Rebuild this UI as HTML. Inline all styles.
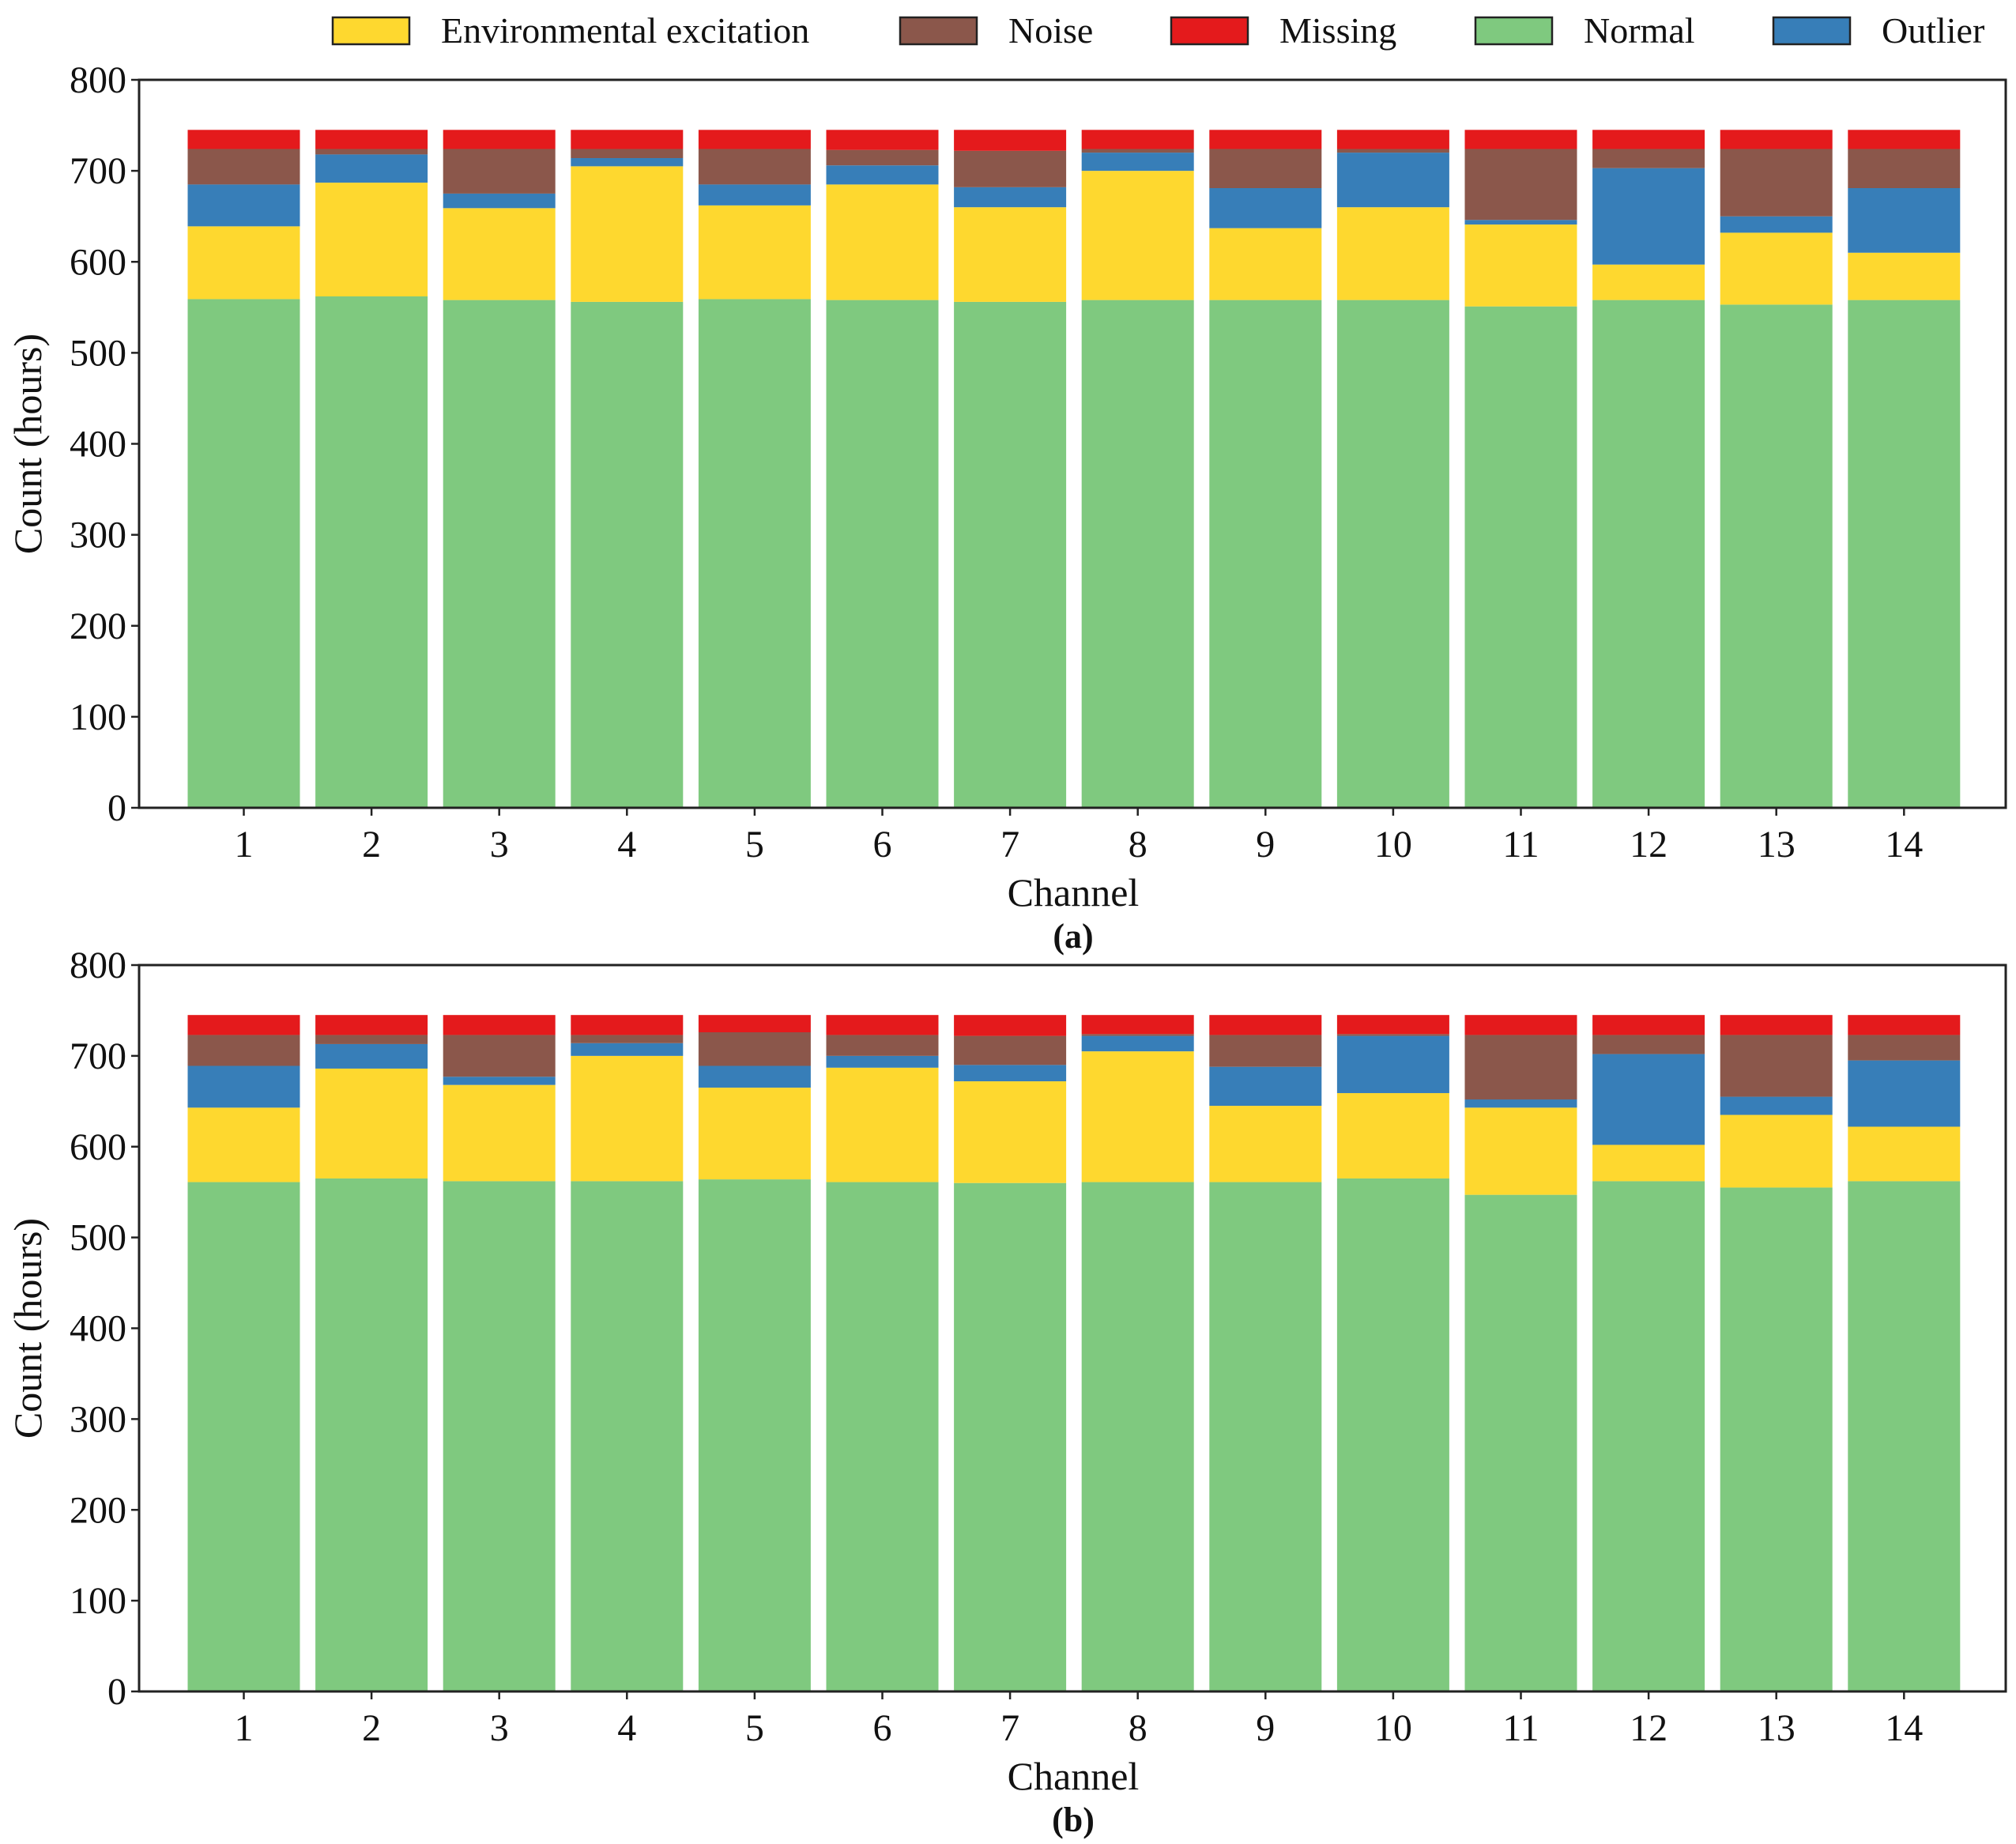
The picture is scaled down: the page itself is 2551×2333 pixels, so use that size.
<!DOCTYPE html>
<html><head><meta charset="utf-8"><style>
html,body{margin:0;padding:0;background:#fff;}
svg{display:block;font-family:"Liberation Serif",serif;}
</style></head><body>
<svg id="fig" width="2551" height="2333" viewBox="0 0 2551 2333"></svg>
<script>
const channels = [1,2,3,4,5,6,7,8,9,10,11,12,13,14];
const yTicks = [0,100,200,300,400,500,600,700,800];
// cumulative tops per category, panel (a)
const aNormal  = [559,562,558,556,559,558,556,558,558,558,551,558,553,558];
const aEnv     = [639,687,659,705,662,685,660,700,637,660,641,597,632,610];
const aOutlier = [685,718,675,714,685,706,682,720,681,720,646,703,650,681];
const aNoise   = [724,724,724,724,724,723,722,724,724,724,724,724,724,724];
const aMissing = [745,745,745,745,745,745,745,745,745,745,745,745,745,745];
// panel (b)
const bNormal  = [561,565,562,562,564,561,560,561,561,565,547,562,555,562];
const bEnv     = [643,686,668,700,665,687,672,705,645,659,643,602,635,622];
const bOutlier = [689,713,677,714,689,700,690,722,688,722,652,702,655,695];
const bNoise   = [723,723,723,723,726,723,722,724,723,724,723,723,723,723];
const bMissing = [745,745,745,745,745,745,745,745,745,745,745,745,745,745];

const legendLabels = ["Environmental excitation","Noise","Missing","Normal","Outlier"];
const COLORS = {normal:"#7fc97f",env:"#fed82f",outlier:"#377eb8",noise:"#8b574b",missing:"#e41a1c"};
const NS="http://www.w3.org/2000/svg";
const svg=document.getElementById('fig');
function mk(tag,attrs,parent){const e=document.createElementNS(NS,tag);for(const k in attrs)e.setAttribute(k,attrs[k]);(parent||svg).appendChild(e);return e;}

const L=176,R=2538,step=161.6,x1=308.5,bw=142;
function xPos(c){return x1+(c-1)*step;}

function panel(top,bottom,series,tag,label){
  const g=mk('g',{});
  
  
  const y=v=>bottom-(v/800)*(bottom-top);
  const keys=['normal','env','outlier','noise','missing'];
  channels.forEach((c,i)=>{
    let prev=0;
    keys.forEach(k=>{
      const v=series[k][i];
      const r=mk('rect',{x:xPos(c)-bw/2,y:y(v),width:bw,height:Math.max(0,y(prev)-y(v)),fill:COLORS[k]},g);
      
      
      prev=v;
    });
  });
  const fr=mk('rect',{x:L,y:top,width:R-L,height:bottom-top,fill:'none',stroke:'#222','stroke-width':3},g);
  
  
  yTicks.forEach(v=>{
    mk('line',{x1:L-10,x2:L,y1:y(v),y2:y(v),stroke:'#222','stroke-width':2.5},g);
    const t=mk('text',{x:L-16,y:y(v)+16,'text-anchor':'end','font-size':48,fill:'#111'},g);
    t.textContent=v;
    
    
  });
  channels.forEach(c=>{
    mk('line',{x1:xPos(c),x2:xPos(c),y1:bottom,y2:bottom+10,stroke:'#222','stroke-width':2.5},g);
    const t=mk('text',{x:xPos(c),y:bottom+62,'text-anchor':'middle','font-size':48,fill:'#111'},g);
    t.textContent=c;
    
    
  });
  const xt=mk('text',{x:1358,y:bottom+124,'text-anchor':'middle','font-size':50,fill:'#111'},g);
  xt.textContent='Channel';
  
  
  const pl=mk('text',{x:1358,y:bottom+177,'text-anchor':'middle','font-size':44,'font-weight':'bold',fill:'#111'},g);
  pl.textContent=label;
  
  
  const cy=(top+bottom)/2;
  const yt=mk('text',{x:52,y:cy,'text-anchor':'middle','font-size':50,fill:'#111',transform:'rotate(-90 52 '+cy+')'},g);
  yt.textContent='Count (hours)';
  
  
}
panel(101,1022,{normal:aNormal,env:aEnv,outlier:aOutlier,noise:aNoise,missing:aMissing},'a','(a)');
panel(1221,2140,{normal:bNormal,env:bEnv,outlier:bOutlier,noise:bNoise,missing:bMissing},'b','(b)');

// legend
const lg=mk('g',{});


const legKeys=['env','noise','missing','normal','outlier'];
const legX=[421,1139,1482,1867,2244];
legendLabels.forEach((lab,i)=>{
  const r=mk('rect',{x:legX[i],y:22,width:97,height:34,fill:COLORS[legKeys[i]],stroke:'#222','stroke-width':2.5},lg);
  
  
  const t=mk('text',{x:legX[i]+137,y:54,'font-size':46,fill:'#111'},lg);
  t.textContent=lab;
  
  
});
</script>
</body></html>
